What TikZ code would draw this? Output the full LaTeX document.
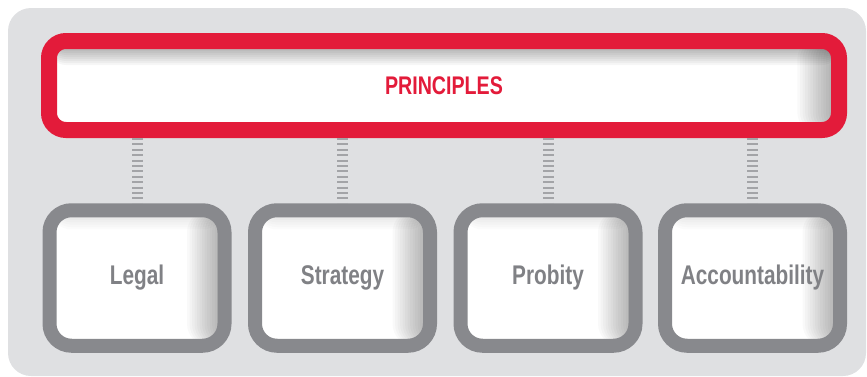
\documentclass[tikz,border=0pt]{standalone}
\usepackage{fontspec}
\usepackage{tikz}
\newfontfamily\pillarfont{Liberation Sans}[FakeStretch=0.77]
\newfontfamily\headfont{Liberation Sans}[FakeStretch=0.77]
\definecolor{bgGray}{HTML}{DFE0E2}
\definecolor{frameRed}{HTML}{E31B3A}
\definecolor{frameGray}{HTML}{88898D}
\definecolor{textGray}{HTML}{808185}
\definecolor{linkGray}{HTML}{A3A4A7}
\def\pbb{path picture bounding box}
\tikzstyle{head} = [draw=frameRed, line width=16pt, rounded corners=17pt, fill=white,
  minimum width=790pt, minimum height=89pt, outer sep=8pt, text=frameRed,
  font=\headfont\bfseries\fontsize{25.5}{30}\selectfont,
  path picture={
    \foreach \i in {1,...,16}
      \fill[black, opacity=0.025] ([xshift=-2.6*\i pt]\pbb.north east) rectangle (\pbb.south east);
    \foreach \i in {1,...,12}
      \fill[black, opacity=0.035] ([yshift=-2*\i pt]\pbb.north west) rectangle (\pbb.north east);
  }]
\tikzstyle{pillar} = [draw=frameGray, line width=14pt, rounded corners=22pt, fill=white,
  minimum width=175pt, minimum height=135.5pt, outer sep=7pt, text=textGray,
  font=\pillarfont\bfseries\fontsize{27}{32}\selectfont,
  path picture={
    \foreach \i in {1,...,15}
      \fill[black, opacity=0.025] ([xshift=-2.5*\i pt]\pbb.north east) rectangle (\pbb.south east);
    \foreach \i in {1,...,8}
      \fill[black, opacity=0.015] ([yshift=-2.4*\i pt]\pbb.north west) rectangle (\pbb.north east);
  }]
\tikzstyle{link} = [linkGray, line width=11pt, dash pattern=on 2pt off 3.4pt]

\begin{document}
\begin{tikzpicture}[x=1pt,y=1pt]
\useasboundingbox (0,0) rectangle (867,376);
\fill[bgGray, rounded corners=23pt] (8,0) rectangle (866,368);
\node[head] (principles) at (444,290.5) {PRINCIPLES};
\foreach \x/\name/\txt in {137/legal/Legal,342.5/strategy/Strategy,548/probity/Probity,752.5/acct/Accountability}{
  \node[pillar] (\name) at (\x,98) {\txt};
  \draw[link] (principles.south -| \name) -- (\name.north);
}
\end{tikzpicture}
\end{document}
